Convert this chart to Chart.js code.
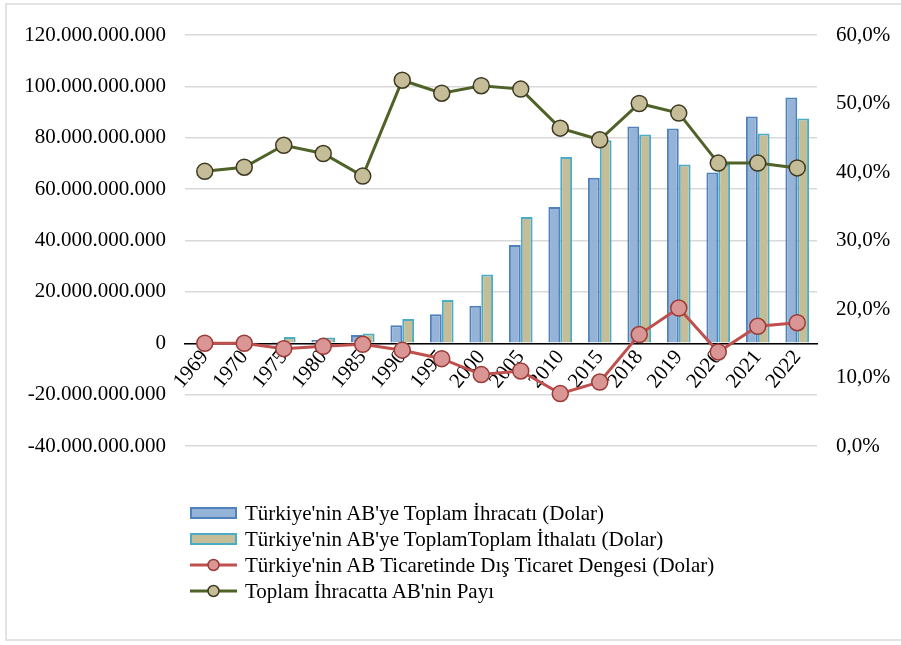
<!DOCTYPE html>
<html lang="tr">
<head>
<meta charset="UTF-8">
<title>Türkiye - AB Dış Ticaret</title>
<script src="https://cdn.jsdelivr.net/npm/chart.js"></script>
<style>
    body { margin: 0; background: #fff; }
    .kutu { position: relative; width: 901px; height: 645px; overflow: hidden; }
    .cerceve { position: absolute; left: 5px; top: 3px; width: 910px; height: 638px; border: 2px solid #e3e3e3; box-sizing: border-box; }
    canvas { position: absolute; left: 0; top: 0; }
    #lejant { position: absolute; left: 190px; top: 500px; font-family: 'Liberation Serif', 'Times New Roman', serif; font-size: 21px; color: #000; }
    .satir { height: 26px; display: flex; align-items: center; white-space: nowrap; }
    .isaret { width: 47px; height: 14px; margin-right: 8px; position: relative; flex: none; }
</style>
</head>
<body>
<div class="kutu">
    <div class="cerceve"></div>
    <canvas id="grafik" width="901" height="645"></canvas>
    <div id="lejant"></div>
</div>

<script>
    // yıllar
    var yillar = ['1969', '1970', '1975', '1980', '1985', '1990', '1995', '2000', '2005', '2010', '2015', '2018', '2019', '2020', '2021', '2022'];

    // milyar dolar
    var ihracat = [0.3, 0.3, 0.5, 1.3, 3.2, 7.0, 11.3, 14.6, 38.2, 53.0, 64.4, 84.4, 83.6, 66.5, 88.3, 95.7];
    var ithalat = [0.3, 0.3, 2.4, 2.2, 3.8, 9.4, 16.8, 26.8, 49.1, 72.5, 79.0, 81.3, 69.6, 69.8, 81.7, 87.5];
    var denge = [0.0, 0.0, -2.1, -1.2, -0.4, -2.7, -6.0, -12.2, -10.8, -19.6, -15.1, 3.4, 13.7, -3.4, 6.6, 8.0];

    // yüzde
    var abPayi = [40.1, 40.7, 43.9, 42.7, 39.4, 53.4, 51.5, 52.6, 52.1, 46.4, 44.7, 50.0, 48.6, 41.3, 41.3, 40.6];

    var etiketler = [
        "Türkiye'nin AB'ye Toplam İhracatı (Dolar)",
        "Türkiye'nin AB'ye ToplamToplam İthalatı (Dolar)",
        "Türkiye'nin AB Ticaretinde Dış Ticaret Dengesi (Dolar)",
        "Toplam İhracatta AB'nin Payı"
    ];

    var yazi = "'Liberation Serif', 'Times New Roman', serif";

    function noktali(v) {
        var s = Math.abs(Math.round(v)).toString().replace(/\B(?=(\d{3})+(?!\d))/g, '.');
        return (v < 0 ? '-' : '') + s;
    }

    var ctx = document.getElementById('grafik').getContext('2d');

    var grafik = new Chart(ctx, {
        type: 'bar',
        data: {
            labels: yillar,
            datasets: [
                {
                    label: etiketler[0],
                    data: ihracat.map(v => v * 1e9),
                    backgroundColor: '#95b3d7',
                    borderColor: '#4f81bd',
                    borderWidth: 2,
                    yAxisID: 'y',
                    order: 3
                },
                {
                    label: etiketler[1],
                    data: ithalat.map(v => v * 1e9),
                    backgroundColor: '#c4bd97',
                    borderColor: '#4bacc6',
                    borderWidth: 2,
                    yAxisID: 'y',
                    order: 3
                },
                {
                    type: 'line',
                    label: etiketler[2],
                    data: denge.map(v => v * 1e9),
                    borderColor: '#c0504d',
                    borderWidth: 3,
                    pointRadius: 8,
                    pointBackgroundColor: '#d99694',
                    pointBorderColor: '#9b3b38',
                    pointBorderWidth: 1.5,
                    tension: 0,
                    yAxisID: 'y',
                    order: 1
                },
                {
                    type: 'line',
                    label: etiketler[3],
                    data: abPayi,
                    borderColor: '#4f6228',
                    borderWidth: 3,
                    pointRadius: 8,
                    pointBackgroundColor: '#c4bd97',
                    pointBorderColor: '#3f3a22',
                    pointBorderWidth: 1.5,
                    tension: 0,
                    yAxisID: 'y1',
                    order: 0
                }
            ]
        },
        options: {
            responsive: false,
            animation: false,
            layout: { padding: { top: 35, bottom: 199, left: 0, right: 0 } },
            plugins: {
                legend: { display: false },
                tooltip: { enabled: false }
            },
            datasets: {
                bar: { categoryPercentage: 0.6, barPercentage: 1.0 }
            },
            scales: {
                x: {
                    position: { y: 0 },
                    grid: { display: false, drawTicks: false },
                    border: { color: '#000', width: 1.5 },
                    ticks: {
                        color: '#000',
                        font: { family: yazi, size: 21 },
                        minRotation: 50,
                        maxRotation: 50,
                        autoSkip: false,
                        padding: 2
                    }
                },
                y: {
                    position: 'left',
                    min: -40e9,
                    max: 120e9,
                    afterFit: function (s) { s.width = 185; },
                    grid: { color: '#d9d9d9', lineWidth: 1.5, drawTicks: false },
                    border: { display: false },
                    ticks: {
                        stepSize: 20e9,
                        color: '#000',
                        padding: 19,
                        font: { family: yazi, size: 21 },
                        callback: function (v) { return noktali(v); }
                    }
                },
                y1: {
                    position: 'right',
                    min: 0,
                    max: 60,
                    afterFit: function (s) { s.width = 84; },
                    grid: { display: false, drawTicks: false },
                    border: { display: false },
                    ticks: {
                        stepSize: 10,
                        color: '#000',
                        padding: 19,
                        font: { family: yazi, size: 21 },
                        callback: function (v) { return v.toFixed(1).replace('.', ',') + '%'; }
                    }
                }
            }
        }
    });

    // lejant
    function lejantCiz() {
        var kutu = document.getElementById('lejant');
        grafik.data.datasets.forEach(function (ds) {
            var satir = document.createElement('div');
            satir.className = 'satir';
            var c = document.createElement('canvas');
            c.width = 47; c.height = 14;
            c.className = 'isaret';
            c.style.position = 'static';
            var g = c.getContext('2d');
            if (ds.type === 'line') {
                g.strokeStyle = ds.borderColor;
                g.lineWidth = 3;
                g.beginPath(); g.moveTo(0, 7); g.lineTo(47, 7); g.stroke();
                g.beginPath(); g.arc(23.5, 7, 5.5, 0, Math.PI * 2);
                g.fillStyle = ds.pointBackgroundColor; g.fill();
                g.lineWidth = 1.5; g.strokeStyle = ds.pointBorderColor; g.stroke();
            } else {
                g.fillStyle = ds.backgroundColor;
                g.fillRect(1, 2, 45, 10);
                g.strokeStyle = ds.borderColor;
                g.lineWidth = 2;
                g.strokeRect(1, 2, 45, 10);
            }
            var t = document.createElement('span');
            t.textContent = ds.label;
            satir.appendChild(c);
            satir.appendChild(t);
            kutu.appendChild(satir);
        });
    }
    lejantCiz();
</script>
</body>
</html>
